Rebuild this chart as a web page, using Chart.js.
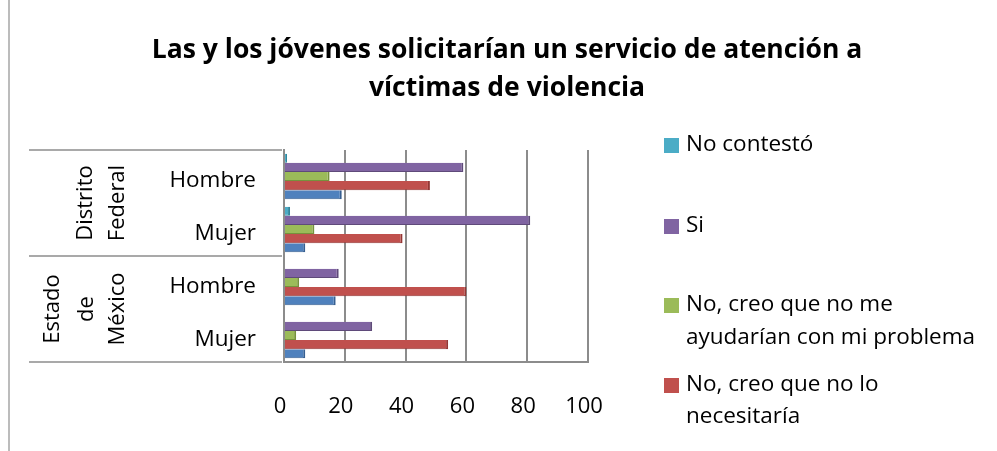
<!DOCTYPE html>
<html>
<head>
    <script src="https://cdn.jsdelivr.net/npm/chart.js@4/dist/chart.umd.min.js"></script>
    <style>
        body { margin: 0; background: #fff; }
        .wrap { width: 997px; height: 451px; position: relative; }
    </style>
</head>
<body>
    <div class="wrap">
        <canvas id="chart" width="997" height="451"></canvas>
    </div>

    <script>
        const titleLines = ['Las y los jóvenes solicitarían un servicio de atención a', 'víctimas de violencia'];
        const categories = ['Hombre', 'Mujer', 'Hombre', 'Mujer'];
        const groups = [['Distrito', 'Federal'], ['Estado', 'de', 'México']];
        const xTicks = [0, 20, 40, 60, 80, 100];

        const seriesNames = ['No contestó', 'Si', 'No, creo que no me ayudarían con mi problema', 'No, creo que no lo necesitaría', 'No sé'];
        const noContesto = [1, 2, 0, 0];
        const si = [59, 81, 18, 29];
        const noAyudarian = [15, 10, 5, 4];
        const noNecesitaria = [48, 39, 60, 54];
        const noSe = [19, 7, 17, 7];

        const colors = ['#4bacc6', '#8064a2', '#9bbb59', '#c0504d', '#4f81bd'];
        const edges = ['#31859c', '#5f4a7a', '#76923c', '#943634', '#365f91'];
        // legend lines as wrapped in the original
        const legendText = [['No contestó'], ['Si'], ['No, creo que no me', 'ayudarían con mi problema'], ['No, creo que no lo', 'necesitaría']];

        const font = '"Open Sans", Lato, sans-serif';
        const values = [noContesto, si, noAyudarian, noNecesitaria, noSe];

        const decor = {
            id: 'decor',
            afterDraw(chart) {
                const ctx = chart.ctx;
                const area = chart.chartArea;
                const yScale = chart.scales.y;
                ctx.save();

                // left frame
                ctx.strokeStyle = '#a6a6a6';
                ctx.lineWidth = 1.5;
                ctx.beginPath();
                ctx.moveTo(9, 0);
                ctx.lineTo(9, 451);
                ctx.stroke();

                // title
                ctx.fillStyle = '#000';
                ctx.textAlign = 'center';
                ctx.textBaseline = 'middle';
                ctx.font = 'bold 26.5px ' + font;
                titleLines.forEach((t, i) => ctx.fillText(t, 507, 50 + i * 38));

                // group separators
                const half = (yScale.getPixelForValue(1) - yScale.getPixelForValue(0)) / 2;
                const seps = [yScale.getPixelForValue(0) - half, yScale.getPixelForValue(1) + half, yScale.getPixelForValue(3) + half];
                ctx.strokeStyle = '#8c8c8c';
                ctx.lineWidth = 1.5;
                seps.forEach(y => {
                    ctx.beginPath();
                    ctx.moveTo(29, y);
                    ctx.lineTo(area.left - 2, y);
                    ctx.stroke();
                });

                // group labels, rotated
                ctx.font = '22px ' + font;
                ctx.fillStyle = '#000';
                const groupX = [[86, 118], [53, 87, 118]];
                groups.forEach((g, gi) => {
                    const yc = (seps[gi] + seps[gi + 1]) / 2;
                    g.forEach((word, wi) => {
                        ctx.save();
                        ctx.translate(groupX[gi][wi], yc);
                        ctx.rotate(-Math.PI / 2);
                        ctx.fillText(word, 0, 0);
                        ctx.restore();
                    });
                });

                // legend
                const legendY = [[145], [226], [305, 338], [385, 417]];
                ctx.textAlign = 'left';
                ctx.font = '22.5px ' + font;
                legendText.forEach((lines, i) => {
                    ctx.fillStyle = colors[i];
                    ctx.fillRect(664, legendY[i][0] - 7, 15, 15);
                    ctx.fillStyle = '#000';
                    lines.forEach((l, li) => ctx.fillText(l, 686, legendY[i][li]));
                });
                ctx.restore();
            }
        };

        new Chart(document.getElementById('chart'), {
            type: 'bar',
            data: {
                labels: categories,
                datasets: seriesNames.map((name, i) => ({
                    label: name,
                    data: values[i],
                    backgroundColor: colors[i],
                    borderColor: edges[i],
                    borderWidth: { top: 0, right: 2, bottom: 1, left: 0 },
                    borderSkipped: false,
                    categoryPercentage: 0.86,
                    barPercentage: 1.0
                }))
            },
            options: {
                indexAxis: 'y',
                responsive: false,
                animation: false,
                layout: { padding: { left: 0, right: 409, top: 150, bottom: 0 } },
                plugins: {
                    legend: { display: false },
                    title: { display: false },
                    tooltip: { enabled: false }
                },
                scales: {
                    x: {
                        min: 0,
                        max: 100,
                        afterBuildTicks: scale => { scale.ticks = xTicks.map(v => ({ value: v })); },
                        afterFit: scale => { scale.height = 89; },
                        grid: { color: '#8c8c8c', lineWidth: 2, drawTicks: false },
                        border: { display: true, color: '#8c8c8c', width: 2 },
                        ticks: { padding: 32, labelOffset: -4, color: '#000', font: { family: font, size: 22 } }
                    },
                    y: {
                        afterFit: scale => { scale.width = 284; },
                        grid: { display: false, drawTicks: false },
                        border: { display: true, color: '#8c8c8c', width: 2 },
                        ticks: { padding: 28, labelOffset: 4, color: '#000', font: { family: font, size: 22.5 } }
                    }
                }
            },
            plugins: [decor]
        });
    </script>
</body>
</html>
